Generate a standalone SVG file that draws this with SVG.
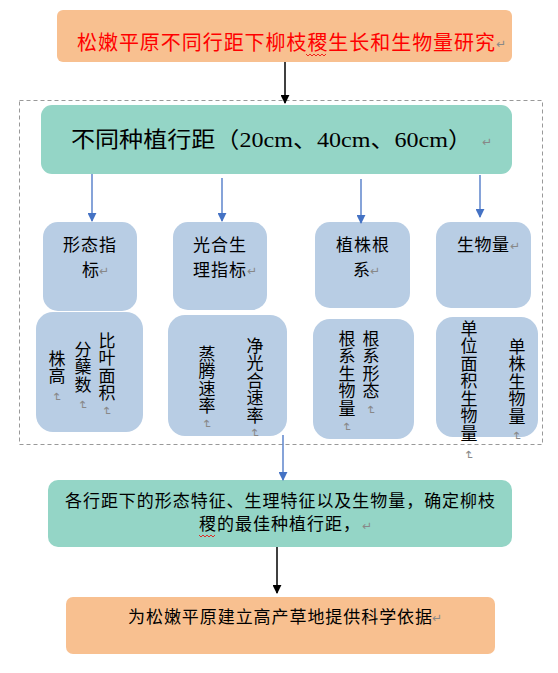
<svg xmlns="http://www.w3.org/2000/svg" width="558" height="673" viewBox="0 0 558 673">
<defs>
<marker id="ab" viewBox="0 0 10 10" refX="9" refY="5" markerWidth="9" markerHeight="9" markerUnits="userSpaceOnUse" orient="auto"><path d="M0,0 L10,5 L0,10 z" fill="#000"/></marker>
<marker id="abl" viewBox="0 0 10 10" refX="9" refY="5" markerWidth="9" markerHeight="9" markerUnits="userSpaceOnUse" orient="auto"><path d="M0,0 L10,5 L0,10 z" fill="#4472C4"/></marker>
</defs>
<style>
text{font-family:"Noto Sans CJK SC","Liberation Sans",sans-serif;fill:#000;}
.peach{fill:#F8C090;}
.green{fill:#94D5C6;}
.blue{fill:#B8CDE4;}
.t17{font-size:17px;}
.v{font-size:17px;writing-mode:vertical-rl;letter-spacing:0.5px;}
.mk{fill:#888;font-size:12px;font-family:"DejaVu Sans",sans-serif;}
.bk{stroke:#000;stroke-width:1.5;fill:none;}
.bl{stroke:#4472C4;stroke-width:1.3;fill:none;}
.wave{stroke:#E00;stroke-width:0.8;fill:none;}
</style>
<rect x="19.5" y="100.5" width="523" height="344" fill="none" stroke="#999" stroke-width="1" stroke-dasharray="4 3"/>

<g id="title">
<rect class="peach" x="57" y="10" width="455" height="52" rx="6"/>
<text x="77" y="50" font-size="20" style="fill:#F00" textLength="418" lengthAdjust="spacing">松嫩平原不同行距下柳枝稷生长和生物量研究</text>
<text class="mk" x="496" y="48" font-size="13">↵</text>
<path class="wave" d="M306,54 l2,2 l2,-2 l2,2 l2,-2 l2,2 l2,-2 l2,2 l2,-2 l2,2 l2,-2"/>
</g>

<g id="spacing">
<rect class="green" x="41" y="105" width="471" height="69" rx="11"/>
<text x="71" y="147" font-size="22" style="font-family:'Liberation Serif','Noto Sans CJK SC',serif" textLength="401" lengthAdjust="spacingAndGlyphs">不同种植行距（20cm、40cm、60cm）</text>
<text class="mk" x="482" y="146">↵</text>
</g>

<g id="morph">
<rect class="blue" x="43" y="222" width="94" height="89" rx="15"/>
<text class="t17" x="63" y="251" textLength="53">形态指</text>
<text class="t17" x="82" y="276">标</text>
<text class="mk" x="99" y="275">↵</text>
</g>
<g id="photo">
<rect class="blue" x="173" y="222" width="94" height="88" rx="15"/>
<text class="t17" x="193" y="251" textLength="53">光合生</text>
<text class="t17" x="193" y="276" textLength="53">理指标</text>
<text class="mk" x="247" y="275">↵</text>
</g>
<g id="root">
<rect class="blue" x="315" y="222" width="95" height="86" rx="15"/>
<text class="t17" x="336" y="251" textLength="53">植株根</text>
<text class="t17" x="353" y="276">系</text>
<text class="mk" x="370" y="275">↵</text>
</g>
<g id="biomass">
<rect class="blue" x="436" y="222" width="95" height="86" rx="15"/>
<text class="t17" x="457" y="251" textLength="52">生物量</text>
<text class="mk" x="510" y="250">↵</text>
</g>

<g id="morph-items">
<rect class="blue" x="36" y="312" width="107" height="120" rx="17"/>
<text class="v" x="57" y="350">株高</text>
<text class="mk" transform="translate(53,392) rotate(90)">↵</text>
<text class="v" x="83" y="341">分蘖数</text>
<text class="mk" transform="translate(79,400) rotate(90)">↵</text>
<text class="v" x="107" y="332">比叶面积</text>
<text class="mk" transform="translate(103,406) rotate(90)">↵</text>
</g>
<g id="photo-items">
<rect class="blue" x="168" y="315" width="119" height="121" rx="17"/>
<text class="v" x="207" y="345">蒸腾速率</text>
<text class="mk" transform="translate(203,419) rotate(90)">↵</text>
<text class="v" x="255" y="337">净光合速率</text>
<text class="mk" transform="translate(251,428) rotate(90)">↵</text>
</g>
<g id="root-items">
<rect class="blue" x="313" y="319" width="101" height="120" rx="17"/>
<text class="v" x="347" y="330">根系生物量</text>
<text class="mk" transform="translate(343,422) rotate(90)">↵</text>
<text class="v" x="371" y="330">根系形态</text>
<text class="mk" transform="translate(367,405) rotate(90)">↵</text>
</g>
<g id="biomass-items">
<rect class="blue" x="436" y="317" width="102" height="120" rx="17"/>
<text class="v" x="469" y="320">单位面积生物量</text>
<text class="mk" transform="translate(465,450) rotate(90)">↵</text>
<text class="v" x="517" y="338">单株生物量</text>
<text class="mk" transform="translate(513,431) rotate(90)">↵</text>
</g>

<g id="summary">
<rect class="green" x="48" y="480" width="464" height="67" rx="10"/>
<text class="t17" x="65" y="507" textLength="430" lengthAdjust="spacing">各行距下的形态特征、生理特征以及生物量，确定柳枝</text>
<text class="t17" x="199" y="530" textLength="161" lengthAdjust="spacing">稷的最佳种植行距，</text>
<text class="mk" x="362" y="530">↵</text>
<path class="wave" d="M199,535 l2,2 l2,-2 l2,2 l2,-2 l2,2 l2,-2 l2,2 l2,-2"/>
</g>

<g id="basis">
<rect class="peach" x="66" y="597" width="429" height="57" rx="7"/>
<text class="t17" x="128" y="623" textLength="304" lengthAdjust="spacing">为松嫩平原建立高产草地提供科学依据</text>
<text class="mk" x="432" y="622" font-size="13">↵</text>
</g>

<g id="connectors">
<line class="bk" x1="285" y1="62" x2="285" y2="103" marker-end="url(#ab)"/>
<line class="bl" x1="92" y1="174" x2="92" y2="221" marker-end="url(#abl)"/>
<line class="bl" x1="222" y1="178" x2="222" y2="221" marker-end="url(#abl)"/>
<line class="bl" x1="361" y1="179" x2="361" y2="223" marker-end="url(#abl)"/>
<line class="bl" x1="480" y1="175" x2="480" y2="217" marker-end="url(#abl)"/>
<line class="bl" x1="283" y1="435" x2="283" y2="480" marker-end="url(#abl)"/>
<line class="bk" x1="277" y1="547" x2="277" y2="593" marker-end="url(#ab)"/>
</g>
</svg>
